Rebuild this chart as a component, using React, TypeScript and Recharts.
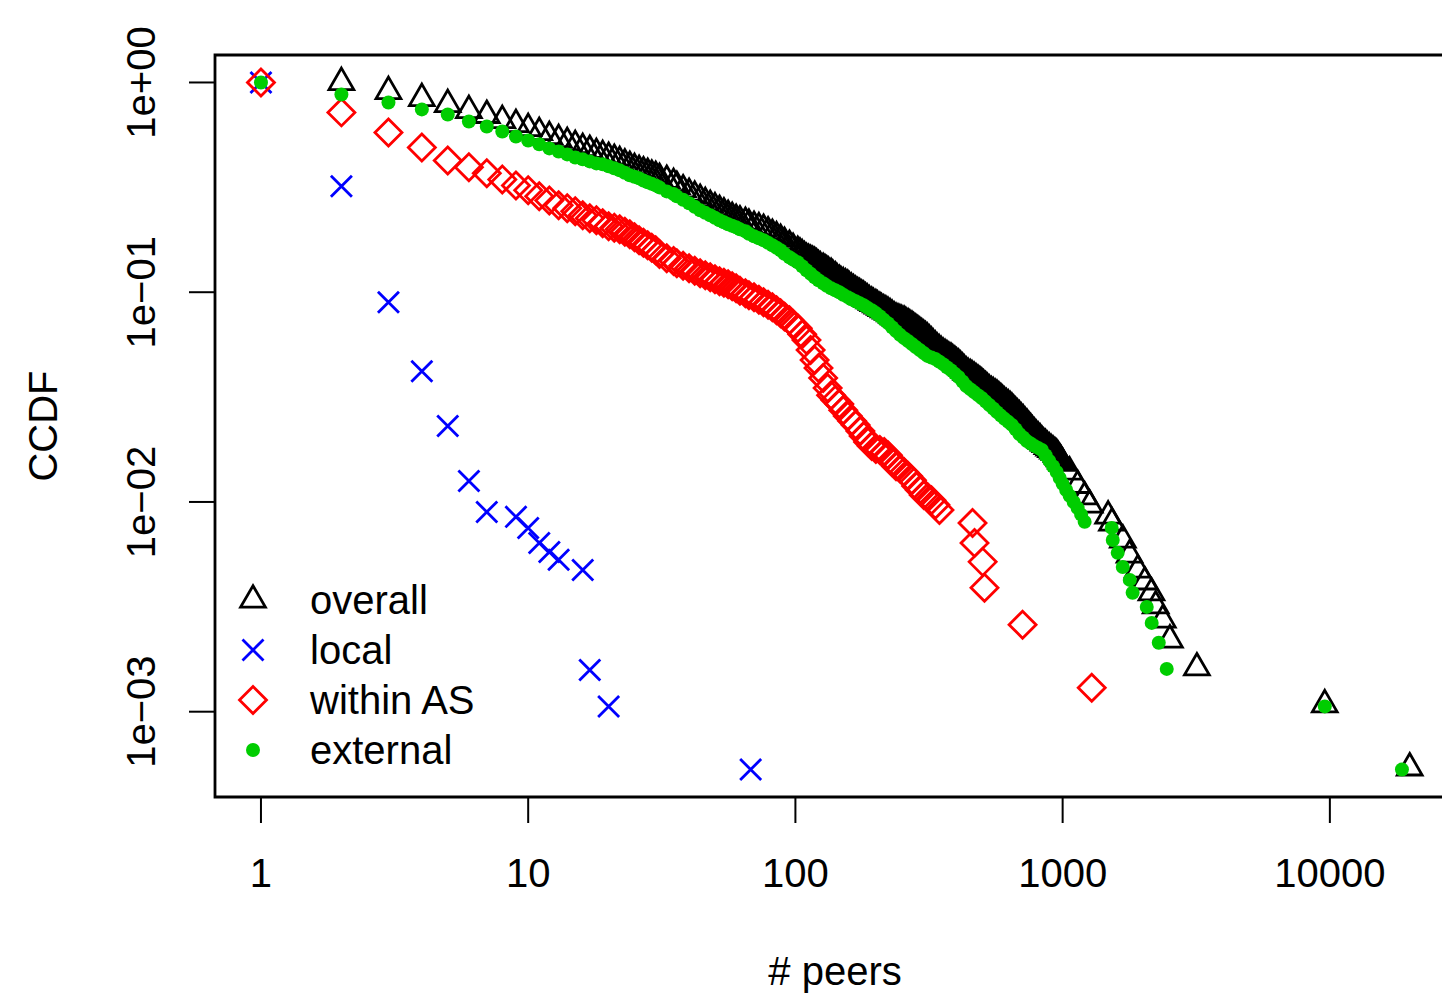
import { ScatterChart, Scatter, XAxis, YAxis, ReferenceArea, Legend } from 'recharts';

const FONT = '"Liberation Sans", Arial, Helvetica, sans-serif';

// CCDF of the number of peers: [peers, ccdf]
const overall: [number, number][] = [
  [2, 1], [3, 0.906], [4, 0.839], [5, 0.786], [6, 0.736], [7, 0.697], [8, 0.659], [9, 0.631],
  [10, 0.604], [11, 0.578], [12, 0.553], [13, 0.535], [14, 0.518], [15, 0.501], [16, 0.485],
  [17, 0.475], [18, 0.459], [19, 0.449], [20, 0.4394], [21, 0.43], [22, 0.4205], [23, 0.409],
  [24, 0.3981], [25, 0.389], [26, 0.3811], [27, 0.375], [28, 0.3687], [29, 0.362], [30, 0.3567],
  [31, 0.349], [33, 0.3415], [35, 0.33], [36, 0.3198], [38, 0.308], [40, 0.2961], [42, 0.287],
  [44, 0.2772], [46, 0.268], [48, 0.2596], [50, 0.253], [52, 0.2457], [54, 0.239], [56, 0.2326],
  [58, 0.2275], [60, 0.2226], [62, 0.219], [65, 0.2154], [67, 0.211], [70, 0.2062], [73, 0.203],
  [76, 0.1995], [79, 0.194], [82, 0.1888], [85, 0.184], [88, 0.1788], [91, 0.173], [95, 0.1674],
  [98, 0.162], [102, 0.1567], [104, 0.1538], [106, 0.151], [108, 0.148], [110, 0.1451],
  [112, 0.1435], [114, 0.142], [116, 0.1405], [118, 0.1389], [120, 0.1365], [122, 0.134],
  [124, 0.132], [127, 0.1301], [129, 0.1283], [131, 0.1265], [133, 0.1248], [136, 0.1231],
  [138, 0.1208], [141, 0.1185], [143, 0.1162], [146, 0.114], [148, 0.1125], [151, 0.111],
  [154, 0.1095], [157, 0.108], [159, 0.1062], [162, 0.1045], [165, 0.1028], [168, 0.1011],
  [171, 0.0997], [174, 0.0984], [177, 0.097], [180, 0.0957], [183, 0.0941], [186, 0.0926],
  [189, 0.0911], [193, 0.0896], [196, 0.0884], [200, 0.0872], [203, 0.086], [207, 0.0848],
  [210, 0.0836], [214, 0.0825], [218, 0.0814], [222, 0.0803], [226, 0.079], [230, 0.0777],
  [234, 0.0764], [238, 0.0752], [242, 0.0746], [246, 0.074], [250, 0.0734], [255, 0.0728],
  [259, 0.0718], [264, 0.0708], [268, 0.0698], [273, 0.0689], [277, 0.0678], [282, 0.0667],
  [287, 0.0656], [292, 0.0645], [297, 0.0634], [302, 0.0624], [307, 0.0614], [312, 0.0604],
  [317, 0.0591], [323, 0.0578], [328, 0.0565], [334, 0.0553], [339, 0.0542], [345, 0.0532],
  [351, 0.0522], [357, 0.0512], [363, 0.0505], [369, 0.0498], [375, 0.0491], [382, 0.0485],
  [388, 0.0477], [395, 0.0469], [401, 0.0461], [408, 0.0454], [415, 0.0444], [422, 0.0435],
  [429, 0.0425], [436, 0.0416], [443, 0.041], [451, 0.0405], [458, 0.04], [466, 0.0394],
  [474, 0.0387], [482, 0.0381], [490, 0.0375], [498, 0.0369], [506, 0.0362], [515, 0.0355],
  [523, 0.0348], [532, 0.0341], [541, 0.0336], [550, 0.0332], [559, 0.0327], [568, 0.0323],
  [577, 0.0317], [587, 0.0311], [596, 0.0305], [606, 0.0299], [616, 0.0294], [626, 0.029],
  [636, 0.0285], [646, 0.028], [656, 0.0274], [667, 0.0268], [678, 0.0262], [689, 0.0257],
  [700, 0.0251], [712, 0.0246], [723, 0.024], [735, 0.0235], [747, 0.0229], [759, 0.0224],
  [771, 0.0218], [784, 0.0213], [797, 0.0208], [810, 0.0204], [823, 0.02], [836, 0.0195],
  [849, 0.0191], [863, 0.0188], [877, 0.0184], [891, 0.0181], [905, 0.0178], [920, 0.0175],
  [935, 0.0172], [950, 0.0169], [962, 0.0165], [975, 0.0161], [987, 0.0157], [1000, 0.0153],
  [1062, 0.0139], [1138, 0.012], [1209, 0.0106], [1262, 0.00968], [1480, 0.00858],
  [1530, 0.00794], [1680, 0.00659], [1780, 0.00559], [1910, 0.00474], [2030, 0.00416],
  [2150, 0.00369], [2230, 0.0032], [2370, 0.00274], [2520, 0.0022], [3180, 0.00162],
  [9570, 0.00108], [19900, 0.00054],
];

const local: [number, number][] = [
  [1, 1], [2, 0.32], [3, 0.0896], [4, 0.042], [5, 0.023], [6, 0.0126], [7, 0.00896], [9, 0.00849],
  [10, 0.00752], [11, 0.00638], [12, 0.00578], [13, 0.0053], [16, 0.00474], [17, 0.00158],
  [20, 0.00106], [68, 0.00053],
];

const withinAS: [number, number][] = [
  [1, 1], [2, 0.72], [3, 0.578], [4, 0.49], [5, 0.425], [6, 0.394], [7, 0.369], [8, 0.345],
  [9, 0.323], [10, 0.306], [11, 0.2865], [12, 0.274], [13, 0.2596], [14, 0.2512], [15, 0.243],
  [16, 0.2326], [17, 0.2251], [18, 0.2203], [19, 0.2131], [20, 0.2062], [21, 0.2028], [22, 0.1995],
  [23, 0.194], [24, 0.1888], [25, 0.1828], [26, 0.1769], [27, 0.172], [28, 0.1674], [29, 0.163],
  [30, 0.1585], [31, 0.152], [33, 0.1452], [35, 0.141], [36, 0.1374], [38, 0.1337], [40, 0.1301],
  [42, 0.1266], [44, 0.1231], [46, 0.1205], [48, 0.1179], [50, 0.1153], [52, 0.1128], [54, 0.111],
  [56, 0.1092], [58, 0.1068], [60, 0.1045], [62, 0.1017], [65, 0.0989], [67, 0.0968], [70, 0.0947],
  [73, 0.0921], [76, 0.0896], [79, 0.0872], [82, 0.0848], [85, 0.0821], [88, 0.0794], [91, 0.0765],
  [95, 0.0736], [98, 0.0705], [102, 0.0674], [106, 0.0631], [110, 0.0591], [114, 0.053],
  [118, 0.0475], [122, 0.0435], [127, 0.039], [132, 0.0349], [136, 0.0323], [141, 0.0306],
  [146, 0.0293], [151, 0.0274], [157, 0.0257], [163, 0.0243], [168, 0.0233], [175, 0.0218],
  [180, 0.0206], [187, 0.0193], [193, 0.0185], [200, 0.0179], [207, 0.0177], [215, 0.0173],
  [222, 0.0167], [230, 0.0155], [238, 0.0148], [247, 0.0144], [255, 0.0139], [264, 0.0133],
  [273, 0.0127], [283, 0.0119], [292, 0.0114], [302, 0.0108], [313, 0.0105], [323, 0.0102],
  [334, 0.0097], [346, 0.00916], [460, 0.00794], [468, 0.00638], [502, 0.00518], [510, 0.0039],
  [708, 0.0026], [1285, 0.0013],
];

const external: [number, number][] = [
  [1, 1], [2, 0.877], [3, 0.803], [4, 0.744], [5, 0.704], [6, 0.652], [7, 0.617], [8, 0.584],
  [9, 0.553], [10, 0.529], [11, 0.507], [12, 0.485], [13, 0.469], [14, 0.454], [15, 0.439],
  [16, 0.43], [17, 0.4205], [18, 0.4114], [19, 0.407], [20, 0.3981], [21, 0.39], [22, 0.3811],
  [23, 0.371], [24, 0.3608], [25, 0.355], [26, 0.349], [27, 0.341], [28, 0.334], [29, 0.3285],
  [30, 0.3231], [31, 0.316], [33, 0.3025], [35, 0.294], [36, 0.2865], [38, 0.276], [40, 0.2657],
  [42, 0.2555], [44, 0.2457], [46, 0.239], [48, 0.2326], [50, 0.2265], [52, 0.2203], [54, 0.2155],
  [56, 0.2109], [58, 0.2075], [60, 0.204], [62, 0.1995], [65, 0.1952], [67, 0.19], [70, 0.1848],
  [73, 0.1808], [76, 0.1768], [79, 0.172], [82, 0.1674], [85, 0.163], [88, 0.1585], [91, 0.1525],
  [95, 0.1469], [98, 0.143], [102, 0.1389], [106, 0.133], [110, 0.1273], [114, 0.1225],
  [118, 0.1179], [122, 0.114], [127, 0.1104], [131, 0.1074], [136, 0.1045], [141, 0.1022],
  [146, 0.1], [151, 0.0973], [157, 0.0947], [162, 0.0926], [168, 0.0906], [174, 0.0886],
  [180, 0.0867], [186, 0.0844], [193, 0.0821], [200, 0.0795], [207, 0.0769], [214, 0.074],
  [222, 0.0712], [230, 0.0681], [238, 0.0652], [246, 0.0627], [255, 0.0604], [264, 0.0585],
  [273, 0.0566], [282, 0.0548], [292, 0.053], [302, 0.0513], [312, 0.0497], [323, 0.0488],
  [334, 0.048], [345, 0.0467], [357, 0.0454], [369, 0.0439], [382, 0.0425], [395, 0.0409],
  [408, 0.0394], [422, 0.0375], [436, 0.0357], [451, 0.0345], [466, 0.0334], [482, 0.0323],
  [498, 0.0313], [515, 0.0301], [532, 0.029], [550, 0.0279], [568, 0.0268], [587, 0.0258],
  [606, 0.0249], [626, 0.0241], [646, 0.0233], [667, 0.0222], [689, 0.0211], [712, 0.0203],
  [735, 0.0195], [759, 0.019], [784, 0.0185], [810, 0.0181], [836, 0.0177], [863, 0.0167],
  [891, 0.0157], [920, 0.0148], [950, 0.0139], [975, 0.013], [1000, 0.0122], [1031, 0.0114],
  [1062, 0.0107], [1100, 0.01], [1138, 0.00935], [1173, 0.0087], [1209, 0.00804], [1526, 0.00752],
  [1540, 0.00659], [1607, 0.00572], [1679, 0.0049], [1783, 0.00425], [1828, 0.00369],
  [2064, 0.00316], [2154, 0.00265], [2289, 0.00213], [2452, 0.0016], [9572, 0.00106],
  [18610, 0.00053],
];

const legendNames = ['overall', 'local', 'within AS', 'external'];

const xTicks = [1, 10, 100, 1000, 10000];
const yTicks = [1, 0.1, 0.01, 0.001];
const yTickLabels = ['1e+00', '1e\u221201', '1e\u221202', '1e\u221203'];

// axis ranges (R pads the data range by 4% on each side)
const X_DOMAIN = [0.673, 29650];
const Y_DOMAIN = [0.000392, 1.352];

const GREEN = '#00CD00';
const LW = 2.8;

const toPoints = (rows: [number, number][]) => rows.map(([x, y]) => ({ x, y }));

function Marker({ kind, cx, cy }: { kind: string; cx: number; cy: number }) {
  if (kind === 'overall') {
    const s = 9.2;
    return (
      <path
        d={`M${cx},${cy - 1.555 * s} L${cx + 1.347 * s},${cy + 0.778 * s} L${cx - 1.347 * s},${cy + 0.778 * s} Z`}
        fill="none" stroke="#000" strokeWidth={LW} strokeLinejoin="miter"
      />
    );
  }
  if (kind === 'local') {
    const h = 10.5;
    return (
      <path d={`M${cx - h},${cy - h} L${cx + h},${cy + h} M${cx - h},${cy + h} L${cx + h},${cy - h}`}
        stroke="#0000FF" strokeWidth={LW} fill="none" />
    );
  }
  if (kind === 'within AS') {
    const h = 13.5;
    return (
      <path d={`M${cx},${cy - h} L${cx + h},${cy} L${cx},${cy + h} L${cx - h},${cy} Z`}
        fill="none" stroke="#FF0000" strokeWidth={LW} />
    );
  }
  return <circle cx={cx} cy={cy} r={7} fill={GREEN} />;
}

const shapeFor = (kind: string) => (p: any) => <Marker kind={kind} cx={p.cx} cy={p.cy} />;

const XTick = ({ x, payload }: any) => (
  <text x={x} y={887} textAnchor="middle" fontFamily={FONT} fontSize={40} fill="#000">
    {payload.value}
  </text>
);

const YTick = ({ y, index }: any) => (
  <text x={155} y={y} transform={`rotate(-90, 155, ${y})`} textAnchor="middle" fontFamily={FONT} fontSize={40} fill="#000">
    {yTickLabels[index]}
  </text>
);

// legend keeps the plotting order of the original figure
const renderLegend = () => (
  <div style={{ fontFamily: FONT, fontSize: 40, color: '#000' }}>
    {legendNames.map((name) => (
      <div key={name} style={{ display: 'flex', alignItems: 'center', height: 50 }}>
        <svg width={32} height={50}>
          <Marker kind={name} cx={16} cy={25} />
        </svg>
        <span style={{ marginLeft: 41, lineHeight: '50px', whiteSpace: 'nowrap' }}>{name}</span>
      </div>
    ))}
  </div>
);

export default function App() {
  return (
    <div style={{ position: 'absolute', left: 0, top: 0, width: 1442, height: 993, overflow: 'hidden', background: '#fff' }}>
      <ScatterChart width={1470} height={993} margin={{ top: 55, right: 14, bottom: 166, left: 155 }}>
        <XAxis
          type="number" dataKey="x" scale="log" domain={X_DOMAIN} allowDataOverflow
          ticks={xTicks} interval={0} height={30} tickSize={26} axisLine={false}
          tickLine={{ stroke: '#000', strokeWidth: 2 }} tick={<XTick />}
          label={() => (
            <text x={835} y={985} textAnchor="middle" fontFamily={FONT} fontSize={40} fill="#000"># peers</text>
          )}
        />
        <YAxis
          type="number" dataKey="y" scale="log" domain={Y_DOMAIN} allowDataOverflow
          ticks={yTicks} interval={0} width={60} tickSize={26} axisLine={false}
          tickLine={{ stroke: '#000', strokeWidth: 2 }} tick={<YTick />}
          label={() => (
            <text x={57} y={426} transform="rotate(-90, 57, 426)" textAnchor="middle" fontFamily={FONT} fontSize={40} fill="#000">CCDF</text>
          )}
        />
        <ReferenceArea x1={X_DOMAIN[0]} x2={X_DOMAIN[1]} y1={Y_DOMAIN[0]} y2={Y_DOMAIN[1]}
          fill="none" fillOpacity={0} stroke="#000" strokeWidth={LW} ifOverflow="visible" />
        <Legend
          layout="vertical" align="center" verticalAlign="middle"
          wrapperStyle={{ left: 237, top: 575, width: 280, height: 200 }}
          content={renderLegend}
        />
        <Scatter name="overall" data={toPoints(overall)} shape={shapeFor('overall')} isAnimationActive={false} />
        <Scatter name="local" data={toPoints(local)} shape={shapeFor('local')} isAnimationActive={false} />
        <Scatter name="within AS" data={toPoints(withinAS)} shape={shapeFor('within AS')} isAnimationActive={false} />
        <Scatter name="external" data={toPoints(external)} shape={shapeFor('external')} isAnimationActive={false} />
      </ScatterChart>
    </div>
  );
}
